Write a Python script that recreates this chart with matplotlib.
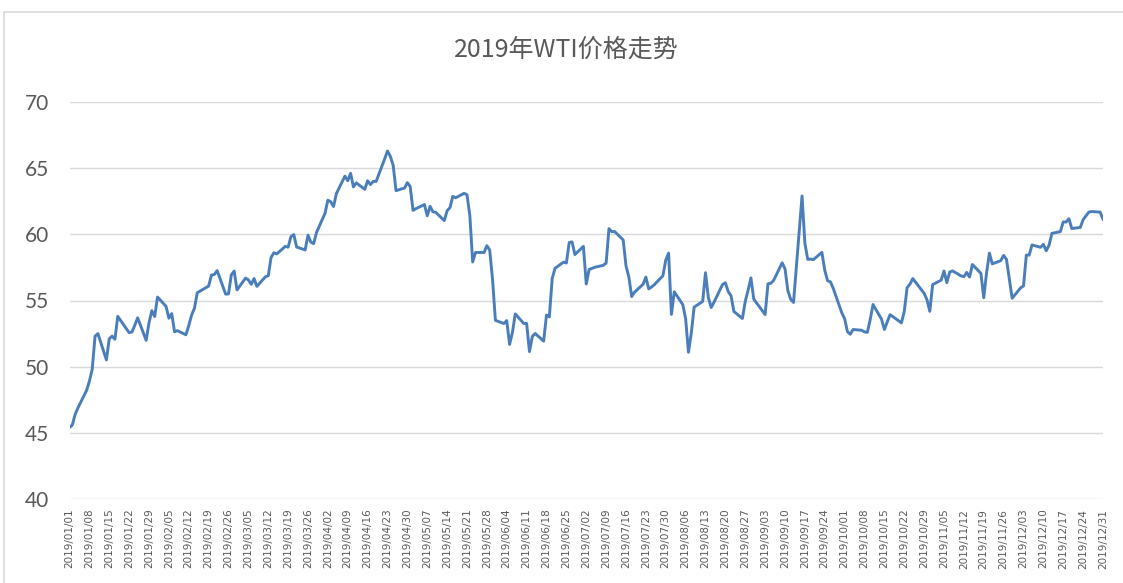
import matplotlib
matplotlib.use('Agg')
from matplotlib import pyplot as plt
from matplotlib.patches import Rectangle
import matplotlib.dates as mdates
import numpy as np

# WTI spot price 2019, trading days
dates = [
    '2019-01-01', '2019-01-02', '2019-01-03', '2019-01-04', '2019-01-07', '2019-01-08', '2019-01-09', '2019-01-10',
    '2019-01-11', '2019-01-14', '2019-01-15', '2019-01-16', '2019-01-17', '2019-01-18', '2019-01-22', '2019-01-23',
    '2019-01-24', '2019-01-25', '2019-01-28', '2019-01-29', '2019-01-30', '2019-01-31', '2019-02-01', '2019-02-04',
    '2019-02-05', '2019-02-06', '2019-02-07', '2019-02-08', '2019-02-11', '2019-02-12', '2019-02-13', '2019-02-14',
    '2019-02-15', '2019-02-19', '2019-02-20', '2019-02-21', '2019-02-22', '2019-02-25', '2019-02-26', '2019-02-27',
    '2019-02-28', '2019-03-01', '2019-03-04', '2019-03-05', '2019-03-06', '2019-03-07', '2019-03-08', '2019-03-11',
    '2019-03-12', '2019-03-13', '2019-03-14', '2019-03-15', '2019-03-18', '2019-03-19', '2019-03-20', '2019-03-21',
    '2019-03-22', '2019-03-25', '2019-03-26', '2019-03-27', '2019-03-28', '2019-03-29', '2019-04-01', '2019-04-02',
    '2019-04-03', '2019-04-04', '2019-04-05', '2019-04-08', '2019-04-09', '2019-04-10', '2019-04-11', '2019-04-12',
    '2019-04-15', '2019-04-16', '2019-04-17', '2019-04-18', '2019-04-19', '2019-04-22', '2019-04-23', '2019-04-24',
    '2019-04-25', '2019-04-26', '2019-04-29', '2019-04-30', '2019-05-01', '2019-05-02', '2019-05-03', '2019-05-06',
    '2019-05-07', '2019-05-08', '2019-05-09', '2019-05-10', '2019-05-13', '2019-05-14', '2019-05-15', '2019-05-16',
    '2019-05-17', '2019-05-20', '2019-05-21', '2019-05-22', '2019-05-23', '2019-05-24', '2019-05-27', '2019-05-28',
    '2019-05-29', '2019-05-30', '2019-05-31', '2019-06-03', '2019-06-04', '2019-06-05', '2019-06-06', '2019-06-07',
    '2019-06-10', '2019-06-11', '2019-06-12', '2019-06-13', '2019-06-14', '2019-06-17', '2019-06-18', '2019-06-19',
    '2019-06-20', '2019-06-21', '2019-06-24', '2019-06-25', '2019-06-26', '2019-06-27', '2019-06-28', '2019-07-01',
    '2019-07-02', '2019-07-03', '2019-07-05', '2019-07-08', '2019-07-09', '2019-07-10', '2019-07-11', '2019-07-12',
    '2019-07-15', '2019-07-16', '2019-07-17', '2019-07-18', '2019-07-19', '2019-07-22', '2019-07-23', '2019-07-24',
    '2019-07-25', '2019-07-26', '2019-07-29', '2019-07-30', '2019-07-31', '2019-08-01', '2019-08-02', '2019-08-05',
    '2019-08-06', '2019-08-07', '2019-08-08', '2019-08-09', '2019-08-12', '2019-08-13', '2019-08-14', '2019-08-15',
    '2019-08-16', '2019-08-19', '2019-08-20', '2019-08-21', '2019-08-22', '2019-08-23', '2019-08-26', '2019-08-27',
    '2019-08-28', '2019-08-29', '2019-08-30', '2019-09-03', '2019-09-04', '2019-09-05', '2019-09-06', '2019-09-09',
    '2019-09-10', '2019-09-11', '2019-09-12', '2019-09-13', '2019-09-16', '2019-09-17', '2019-09-18', '2019-09-19',
    '2019-09-20', '2019-09-23', '2019-09-24', '2019-09-25', '2019-09-26', '2019-09-27', '2019-09-30', '2019-10-01',
    '2019-10-02', '2019-10-03', '2019-10-04', '2019-10-07', '2019-10-08', '2019-10-09', '2019-10-10', '2019-10-11',
    '2019-10-14', '2019-10-15', '2019-10-16', '2019-10-17', '2019-10-18', '2019-10-21', '2019-10-22', '2019-10-23',
    '2019-10-24', '2019-10-25', '2019-10-28', '2019-10-29', '2019-10-30', '2019-10-31', '2019-11-01', '2019-11-04',
    '2019-11-05', '2019-11-06', '2019-11-07', '2019-11-08', '2019-11-11', '2019-11-12', '2019-11-13', '2019-11-14',
    '2019-11-15', '2019-11-18', '2019-11-19', '2019-11-20', '2019-11-21', '2019-11-22', '2019-11-25', '2019-11-26',
    '2019-11-27', '2019-11-29', '2019-12-02', '2019-12-03', '2019-12-04', '2019-12-05', '2019-12-06', '2019-12-09',
    '2019-12-10', '2019-12-11', '2019-12-12', '2019-12-13', '2019-12-16', '2019-12-17', '2019-12-18', '2019-12-19',
    '2019-12-20', '2019-12-23', '2019-12-24', '2019-12-26', '2019-12-27', '2019-12-30', '2019-12-31',
]
wti = [
    45.40, 45.60, 46.40, 46.90, 48.20, 48.90, 49.80, 52.30,
    52.50, 50.51, 52.11, 52.31, 52.07, 53.80, 52.57, 52.62,
    53.13, 53.69, 51.99, 53.31, 54.23, 53.79, 55.26, 54.56,
    53.66, 54.01, 52.64, 52.72, 52.41, 53.10, 53.90, 54.41,
    55.59, 56.09, 56.92, 56.96, 57.26, 55.48, 55.50, 56.94,
    57.22, 55.80, 56.69, 56.56, 56.22, 56.66, 56.07, 56.79,
    56.87, 58.26, 58.61, 58.52, 59.09, 59.03, 59.83, 59.98,
    59.04, 58.82, 59.94, 59.41, 59.30, 60.14, 61.59, 62.58,
    62.46, 62.10, 63.08, 64.40, 64.05, 64.61, 63.58, 63.89,
    63.40, 64.05, 63.76, 64.00, 64.00, 65.70, 66.30, 65.89,
    65.21, 63.30, 63.50, 63.91, 63.60, 61.81, 61.94, 62.25,
    61.40, 62.12, 61.70, 61.66, 61.04, 61.78, 62.02, 62.87,
    62.76, 63.10, 62.99, 61.42, 57.91, 58.63, 58.63, 59.14,
    58.81, 56.59, 53.50, 53.26, 53.48, 51.68, 52.59, 53.99,
    53.26, 53.27, 51.14, 52.28, 52.51, 51.93, 53.90, 53.76,
    56.65, 57.43, 57.90, 57.83, 59.38, 59.43, 58.47, 59.09,
    56.25, 57.34, 57.51, 57.66, 57.83, 60.43, 60.20, 60.21,
    59.58, 57.62, 56.78, 55.30, 55.63, 56.22, 56.77, 55.88,
    56.02, 56.20, 56.87, 58.05, 58.58, 53.95, 55.66, 54.69,
    53.63, 51.09, 52.54, 54.50, 54.93, 57.10, 55.23, 54.47,
    54.87, 56.21, 56.34, 55.68, 55.35, 54.17, 53.64, 54.93,
    55.78, 56.71, 55.10, 53.94, 56.26, 56.30, 56.52, 57.85,
    57.40, 55.75, 55.09, 54.85, 62.90, 59.34, 58.11, 58.13,
    58.09, 58.64, 57.29, 56.49, 56.41, 55.91, 54.07, 53.62,
    52.64, 52.45, 52.81, 52.75, 52.63, 52.59, 53.55, 54.70,
    53.59, 52.81, 53.36, 53.93, 53.78, 53.31, 54.16, 55.97,
    56.23, 56.66, 55.81, 55.54, 55.06, 54.18, 56.20, 56.54,
    57.23, 56.35, 57.15, 57.24, 56.86, 56.80, 57.12, 56.77,
    57.72, 57.05, 55.21, 57.11, 58.58, 57.77, 58.01, 58.41,
    58.11, 55.17, 55.96, 56.10, 58.43, 58.43, 59.20, 59.02,
    59.24, 58.76, 59.18, 60.07, 60.21, 60.94, 60.93, 61.18,
    60.44, 60.52, 61.11, 61.68, 61.72, 61.68, 61.14,
]
y_ticks = [40, 45, 50, 55, 60, 65, 70]
title = '2019年WTI价格走势'

W, H = 1123, 583
fig = plt.figure(figsize=(W / 100, H / 100), dpi=100)
fig.patch.set_facecolor('white')

# chart frame
fig.patches.append(Rectangle((3.5 / W, -0.01), 1.05, (H - 12) / H + 0.01,
                             transform=fig.transFigure, fill=False,
                             edgecolor='#d9d9d9', lw=1.2))

ax = fig.add_axes([69.5 / W, (H - 499) / H, (1103 - 69.5) / W, (499 - 102) / H])

x = np.array(dates, dtype='datetime64[D]')
ax.plot(x, wti, color='#4a7ebb', lw=2.1, solid_joinstyle='round')

start = np.datetime64('2019-01-01')
end = np.datetime64('2019-12-31')
ax.set_xlim(start, end)
ax.set_ylim(40, 70)

ax.set_yticks(y_ticks)
ax.yaxis.grid(True, color='#d9d9d9', lw=1)
ax.set_axisbelow(True)
ax.set_xticks(np.arange(start, end + 1, 7))
ax.xaxis.set_major_formatter(mdates.DateFormatter('%Y/%m/%d'))

for s in ax.spines.values():
    s.set_visible(False)
ax.tick_params(axis='both', length=0)
ax.tick_params(axis='y', labelsize=15, labelcolor='#595959', pad=15)
ax.tick_params(axis='x', labelsize=7.5, labelcolor='#595959', pad=7, labelrotation=90)
for lbl in ax.get_yticklabels():
    lbl.set_family('Lato')
for lbl in ax.get_xticklabels():
    lbl.set_family('DejaVu Sans')

fig.text(566.5 / W, (H - 50) / H, title, ha='center', va='center', fontsize=18,
         color='#595959', family=['Noto Sans CJK SC', 'DejaVu Sans'])

fig.savefig('out.png', dpi=100)
